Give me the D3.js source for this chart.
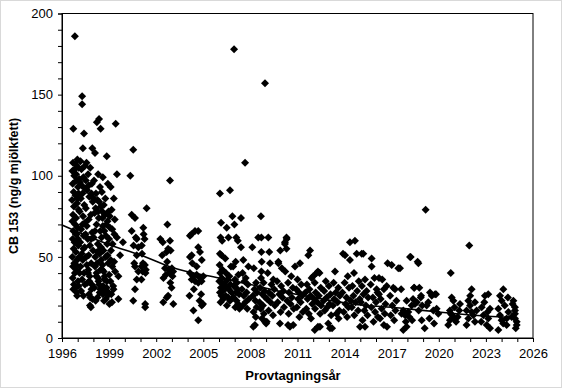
<!DOCTYPE html>
<html>
<head>
<meta charset="utf-8">
<script src="https://cdn.jsdelivr.net/npm/d3@7"></script>
<style>
  body { margin: 0; background: #fff; }
  svg { display: block; }
  text { font-family: "Liberation Sans", Arial, sans-serif; fill: #000; }
</style>
</head>
<body>
<div id="chart"></div>
<script>
// CB 153 per sample, [provtagningsår, ng/g mjölkfett]
var samples1996to1999 = [
  [1996.82,186],[1996.72,129],[1996.98,110],[1996.70,108],[1996.88,107],[1997.05,105],[1996.66,103],[1996.78,100],[1996.92,97],[1996.68,95],[1997.02,93],[1996.74,90],[1996.86,88],[1996.64,85],[1996.96,83],[1996.76,81],[1997.06,79],[1996.70,76],[1996.90,74],[1996.66,72],[1996.84,70],[1997.00,68],[1996.72,66],[1996.94,64],[1996.68,61],[1996.80,59],[1997.04,57],[1996.74,55],[1996.88,53],[1996.66,50],[1996.96,48],[1996.78,46],[1996.70,44],[1996.92,42],[1996.82,40],[1996.68,37],[1997.02,35],[1996.76,33],[1996.86,31],[1996.72,30],[1996.94,28],
  [1997.28,149],[1997.28,144],[1997.40,126],[1997.33,117],[1997.18,109],[1997.45,106],[1997.24,104],[1997.36,99],[1997.14,96],[1997.48,92],[1997.30,89],[1997.20,86],[1997.42,82],[1997.12,78],[1997.34,75],[1997.46,71],[1997.22,67],[1997.38,63],[1997.16,59],[1997.44,56],[1997.26,52],[1997.32,48],[1997.18,44],[1997.40,40],[1997.28,36],[1997.46,33],[1997.22,29],[1997.36,26],
  [1997.93,117],[1997.56,108],[1997.80,105],[1997.66,101],[1997.90,95],[1997.60,91],[1997.74,87],[1997.96,84],[1997.52,80],[1997.84,76],[1997.70,73],[1997.58,69],[1997.92,65],[1997.64,61],[1997.78,57],[1997.98,54],[1997.54,50],[1997.86,46],[1997.68,42],[1997.76,38],[1997.62,34],[1997.88,30],[1997.72,27],[1997.80,25],[1997.94,24],[1997.78,20],[1997.84,19],
  [1998.36,135],[1998.22,133],[1998.46,129],[1998.10,114],[1998.30,101],[1998.04,97],[1998.42,93],[1998.16,89],[1998.26,85],[1998.48,81],[1998.08,77],[1998.34,74],[1998.20,70],[1998.44,66],[1998.02,62],[1998.28,58],[1998.38,54],[1998.12,50],[1998.24,46],[1998.46,42],[1998.18,38],[1998.32,35],[1998.06,31],[1998.40,28],[1998.26,25],[1998.14,23],
  [1998.85,112],[1998.60,99],[1998.92,95],[1998.54,90],[1998.76,86],[1998.66,82],[1998.96,78],[1998.58,74],[1998.82,70],[1998.70,66],[1998.52,62],[1998.88,58],[1998.64,54],[1998.78,50],[1998.94,46],[1998.56,42],[1998.72,38],[1998.86,35],[1998.62,32],[1998.74,29],[1998.90,26],[1998.80,24],[1999.02,21],
  [1999.42,132],[1999.50,101],[1999.10,93],[1999.30,86],[1999.16,79],[1999.36,73],[1999.06,68],[1999.50,62],[1999.22,58],[1999.88,59],[1999.12,54],[1999.70,51],[1999.32,47],[1999.20,44],[1999.38,41],[1999.59,38],[1999.08,35],[1999.26,32],[1999.28,30],[1999.14,27],[1999.59,24],[1999.18,22],
  [1997.58,45],[1997.66,40],[1997.74,35],[1997.90,33],[1998.10,44],[1998.20,40],[1998.30,37],[1998.36,33],[1998.44,30],[1998.50,48],[1998.58,45],[1998.66,41],[1998.70,36],[1998.84,31],[1998.96,28],[1998.60,27],[1998.68,23],[1999.00,39],[1998.40,52],[1998.48,56],[1997.02,61],[1996.88,64],[1997.10,50],[1997.12,40],[1996.90,45],[1997.05,32],[1996.96,26],
  [1996.80,104],[1996.90,101],[1997.10,98],[1997.26,94],[1997.06,89],[1996.98,86],[1997.52,97],[1997.70,94],[1997.88,89],[1998.00,86],[1998.14,80],[1998.36,84],[1998.30,78],[1998.56,78],[1998.74,76],[1998.90,72],[1999.04,75],[1999.20,67],[1999.34,64],[1997.30,70],[1997.50,64],[1997.86,61],[1998.10,66],[1998.60,69],[1998.80,63],[1999.00,61],[1997.36,55],[1997.70,51],[1998.24,53],[1998.90,51],[1999.10,48]
]

var samples2000to2005 = [
  [2000.54,116],[2000.35,100],[2000.44,76],[2000.65,74],[2000.44,66],[2000.70,62],[2000.76,61],[2000.56,57],[2000.86,56],[2000.76,51],[2000.60,46],[2000.65,44],[2000.86,41],[2000.76,36],[2000.65,30],[2000.54,23],
  [2001.39,80],[2001.18,68],[2001.20,64],[2001.26,61],[2001.08,57],[2001.10,52],[2001.16,46],[2001.28,45],[2001.06,44],[2001.34,42],[2001.14,41],[2001.32,40],[2001.06,36],[2001.30,21],[2001.30,19],
  [2002.88,97],[2002.71,70],[2002.26,61],[2002.42,59],[2002.88,60],[2002.76,55],[2002.92,54],[2002.66,53],[2002.38,51],[2002.56,43],[2002.78,42],[2003.00,43],[2003.08,41],[2002.88,40],[2002.62,39],[2002.46,37],[2003.04,38],[2002.98,31],[2002.76,26],[2002.45,22],[2002.67,25],[2003.09,21],[2002.90,34],[2002.70,47],
  [2004.47,66],[2004.15,63],[2004.68,66],[2004.24,64],[2004.68,56],[2004.79,53],[2004.15,50],[2004.90,48],[2004.26,51],[2004.15,40],[2004.36,38],[2004.58,39],[2004.80,37],[2005.00,38],[2004.48,35],[2004.68,34],[2004.89,35],[2004.26,36],[2004.12,26],[2004.86,27],[2004.98,21],[2004.76,23],[2004.37,17],[2004.68,11],[2004.90,20],[2004.40,30],[2004.58,44],[2004.30,46]
]

var samples2006to2011 = [
  [2006.06,89],[2006.13,71],[2006.10,62],[2006.20,60],[2006.06,52],[2006.16,51],[2006.04,45],[2006.22,42],[2006.08,40],[2006.18,37],[2006.02,35],[2006.26,33],[2006.12,31],[2006.24,29],[2006.06,28],[2006.16,26],[2006.28,24],[2006.10,22],
  [2006.70,91],[2006.85,75],[2006.49,68],[2006.60,62],[2006.40,49],[2006.76,44],[2006.44,40],[2006.66,38],[2006.54,36],[2006.36,34],[2006.72,33],[2006.48,31],[2006.62,30],[2006.80,28],[2006.42,26],[2006.58,25],[2006.70,23],[2006.50,20],
  [2006.96,178],[2006.98,70],[2007.10,62],[2007.20,60],[2007.06,47],[2006.90,44],[2007.24,39],[2007.02,36],[2007.14,34],[2006.94,32],[2007.18,30],[2007.08,28],[2007.28,27],[2006.92,25],[2007.12,23],[2007.22,21],[2007.04,19],[2007.30,18],
  [2007.66,108],[2007.40,74],[2007.40,56],[2007.55,48],[2007.87,44],[2007.50,40],[2007.70,37],[2007.62,35],[2007.84,33],[2007.46,30],[2007.76,28],[2007.58,26],[2007.90,24],[2007.68,22],[2007.52,20],[2007.80,18],
  [2008.50,62],[2008.12,56],[2008.22,43],[2008.36,34],[2008.26,30],[2008.42,28],[2008.16,26],[2008.32,23],[2008.40,19],[2008.20,16],[2008.34,13],[2008.29,8],[2008.19,7],
  [2008.93,157],[2008.67,75],[2008.70,62],[2008.70,53],[2008.72,47],[2008.70,41],[2008.68,37],[2008.84,34],[2008.62,31],[2008.90,29],[2008.76,27],[2008.96,25],[2008.58,22],[2008.80,20],[2008.66,18],[2008.86,15],[2008.93,10],[2008.74,12],
  [2009.14,62],[2009.20,53],[2009.25,46],[2009.46,36],[2009.10,40],[2009.34,33],[2009.52,30],[2009.18,28],[2009.40,26],[2009.06,24],[2009.28,22],[2009.56,20],[2009.16,17],[2009.44,14],[2009.00,9],[2009.04,10],
  [2010.31,61],[2010.20,58],[2009.90,54],[2009.78,47],[2009.78,46],[2010.00,43],[2010.22,41],[2009.70,35],[2009.96,32],[2010.10,29],[2009.84,27],[2010.04,25],[2009.74,22],[2010.14,19],[2009.92,16],[2009.88,9],
  [2010.30,62],[2010.20,59],[2010.30,55],[2010.60,38],[2010.40,34],[2010.70,31],[2010.46,28],[2010.64,25],[2010.34,23],[2010.56,21],[2010.76,18],[2010.44,15],[2010.52,7],[2010.73,8],[2010.40,8],
  [2010.84,44],[2011.16,46],[2011.00,36],[2011.24,33],[2010.92,30],[2011.10,28],[2011.30,26],[2011.04,24],[2011.20,22],[2010.96,19],[2011.34,16],[2011.12,13]
]

var samples2011to2017 = [
  [2011.69,51],[2011.80,54],[2011.90,37],[2011.60,33],[2011.76,30],[2011.50,28],[2011.84,26],[2011.64,24],[2011.94,21],[2011.56,18],[2011.72,15],[2011.86,12],
  [2012.00,38],[2012.22,40],[2012.30,41],[2012.40,40],[2012.10,34],[2012.48,31],[2012.16,28],[2012.36,26],[2012.06,24],[2012.26,22],[2012.50,20],[2012.12,18],[2012.44,15],[2012.30,7],[2012.10,5],[2012.43,7],
  [2012.80,35],[2013.00,32],[2012.70,29],[2013.10,27],[2012.86,25],[2012.66,23],[2013.04,21],[2012.90,19],[2012.74,17],[2013.14,14],[2012.96,9],[2013.07,6],
  [2013.39,41],[2013.30,34],[2013.60,31],[2013.44,28],[2013.70,26],[2013.34,24],[2013.56,22],[2013.26,20],[2013.66,17],[2013.48,15],[2013.20,6],[2013.62,12],
  [2014.34,59],[2014.03,51],[2013.90,52],[2014.34,48],[2014.20,38],[2014.00,34],[2014.28,31],[2013.86,28],[2014.12,25],[2014.38,23],[2014.06,21],[2014.24,19],[2013.94,16],[2014.16,13],
  [2014.66,60],[2014.77,52],[2014.60,40],[2014.90,35],[2014.50,32],[2014.80,29],[2014.56,26],[2014.96,24],[2014.70,22],[2014.46,19],[2014.86,17],[2014.62,14],[2014.98,7],
  [2015.19,52],[2015.09,52],[2015.30,36],[2015.10,32],[2015.40,29],[2015.20,27],[2015.50,25],[2015.04,22],[2015.36,20],[2015.26,17],[2015.46,14],[2015.14,11],[2015.30,7],
  [2015.72,49],[2015.72,44],[2016.04,30],[2015.90,37],[2015.66,33],[2016.10,28],[2015.80,25],[2016.00,22],[2015.70,19],[2015.94,16],[2016.12,13],[2015.84,10],
  [2016.74,46],[2016.19,37],[2016.68,32],[2016.40,36],[2016.19,27],[2016.50,30],[2016.30,24],[2016.60,21],[2016.36,18],[2016.56,15],[2016.26,12],[2016.50,8],[2016.70,7],
  [2017.00,45],[2017.42,43],[2017.21,30],[2017.10,31],[2016.90,26],[2017.30,23],[2017.04,20],[2017.24,17],[2016.94,14],[2017.16,11]
]

var samples2017to2025 = [
  [2017.53,43],[2017.74,17],[2017.63,15],[2017.85,14],[2017.95,23],[2018.06,16],[2017.60,30],[2017.95,7],[2017.74,5],[2017.90,10],
  [2018.21,50],[2018.17,50],[2018.42,31],[2018.44,31],[2018.27,20],[2018.48,21],[2018.36,24],[2018.12,13],[2018.30,11],
  [2018.65,47],[2018.70,46],[2018.76,31],[2018.87,26],[2018.85,25],[2018.60,22],[2018.94,20],[2018.72,17],[2018.91,11],[2019.10,6],
  [2019.16,79],[2019.44,28],[2019.33,22],[2019.76,27],[2019.55,26],[2019.82,27],[2019.23,20],[2019.65,17],[2019.86,18],[2019.97,15],[2019.40,12],[2019.70,9],
  [2020.76,40],[2020.82,25],[2020.93,23],[2021.35,21],[2020.71,17],[2021.30,17],[2020.76,15],[2020.86,14],[2020.96,12],[2020.71,11],[2021.10,10],[2021.20,13],[2021.00,19],[2020.60,8],
  [2021.94,57],[2022.09,30],[2021.88,23],[2022.30,22],[2021.99,20],[2021.77,17],[2022.09,16],[2022.41,17],[2022.20,14],[2021.88,12],[2021.77,8],[2022.30,10],[2022.00,26],
  [2022.94,26],[2023.15,27],[2022.73,19],[2023.26,18],[2022.84,14],[2023.15,12],[2023.05,8],[2023.26,6],[2022.90,22],[2023.10,16],[2022.70,10],
  [2024.11,30],[2023.90,26],[2024.00,23],[2024.43,16],[2023.79,18],[2024.32,12],[2024.00,11],[2024.32,8],[2023.79,5],[2024.20,20],[2024.40,25],[2023.90,14],[2024.10,9],
  [2024.75,23],[2024.85,19],[2024.85,17],[2024.85,15],[2024.85,12],[2024.96,10],[2024.96,8],[2024.64,13],[2024.70,21],[2024.90,6]
]

// trend curve as drawn
var trendYears  = [1996, 1999, 2001, 2003, 2006, 2008, 2009.5, 2011.6, 2014.5, 2017.5, 2020, 2022, 2024.9]
var trendValues = [69.6, 57.5, 51.1, 43.5, 37, 33, 29.5, 25.8, 21, 18.5, 16, 14.2, 12.5]

var xMajor = d3.range(1996, 2027, 3)
var yMajor = [0, 50, 100, 150, 200]

var width = 562,
    height = 388,
    margin = {top: 13.5, right: 29, bottom: 50, left: 62}

var samples = [].concat(samples1996to1999, samples2000to2005, samples2006to2011,
                        samples2011to2017, samples2017to2025)

var x = d3.scaleLinear()
    .domain([1996, 2026])
    .range([margin.left, width - margin.right])

var y = d3.scaleLinear()
    .domain([0, 200])
    .range([height - margin.bottom, margin.top])

var svg = d3.select("#chart").append("svg")
    .attr("width", width)
    .attr("height", height)

svg.append("rect")
    .attr("x", 0.5).attr("y", 0.5)
    .attr("width", width - 1).attr("height", height - 1)
    .attr("fill", "#fff")
    .attr("stroke", "#d9d9d9")

// plot frame
svg.append("rect")
    .attr("x", x(1996)).attr("y", y(200))
    .attr("width", x(2026) - x(1996))
    .attr("height", y(0) - y(200))
    .attr("fill", "none")
    .attr("stroke", "#000")
    .attr("stroke-width", 1)

var xAxis = d3.axisBottom(x)
    .tickValues(d3.range(1996, 2027, 1))
    .tickSize(4)
    .tickPadding(4)
    .tickFormat(function(d) { return xMajor.indexOf(d) >= 0 ? d : "" })

var yAxis = d3.axisLeft(y)
    .tickValues(d3.range(0, 201, 10))
    .tickSize(4)
    .tickPadding(5)
    .tickFormat(function(d) { return yMajor.indexOf(d) >= 0 ? d : "" })

svg.append("g")
    .attr("transform", "translate(0," + y(0) + ")")
    .call(xAxis)
    .call(function(g) { g.selectAll("text").style("font-size", "13px").attr("dy", "0.9em") })

svg.append("g")
    .attr("transform", "translate(" + x(1996) + ",0)")
    .call(yAxis)
    .call(function(g) { g.selectAll("text").style("font-size", "13px") })

svg.selectAll(".domain").attr("stroke", "#000")
svg.selectAll(".tick line").attr("stroke", "#000")

svg.append("text")
    .attr("x", 293)
    .attr("y", 380)
    .attr("text-anchor", "middle")
    .style("font-size", "13px")
    .style("font-weight", "bold")
    .text("Provtagningsår")

svg.append("text")
    .attr("transform", "translate(18,186) rotate(-90)")
    .attr("text-anchor", "middle")
    .style("font-size", "12.5px")
    .style("font-weight", "bold")
    .text("CB 153 (ng/g mjölkfett)")

var diamond = "M0,-4L4,0L0,4L-4,0Z"

svg.append("g")
  .selectAll("path.sample")
    .data(samples).enter()
    .append("path")
      .classed("sample", true)
      .attr("d", diamond)
      .attr("transform", function(d) { return "translate(" + x(d[0]) + "," + y(d[1]) + ")" })
      .attr("fill", "#000")

var trend = d3.line()
    .x(function(d, i) { return x(trendYears[i]) })
    .y(function(d) { return y(d) })
    .curve(d3.curveMonotoneX)

svg.append("path")
    .attr("d", trend(trendValues))
    .attr("fill", "none")
    .attr("stroke", "#000")
    .attr("stroke-width", 1.6)
</script>
</body>
</html>
